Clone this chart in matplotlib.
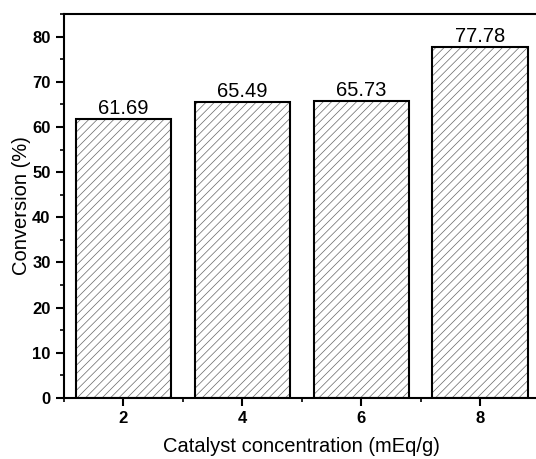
import matplotlib
matplotlib.use("Agg")
import matplotlib.pyplot as plt
from matplotlib.ticker import MultipleLocator

# data
conc = [2, 4, 6, 8]
conv = [61.69, 65.49, 65.73, 77.78]
tick_labels = ["2", "4", "6", "8"]

plt.rcParams['font.family'] = ['Liberation Sans', 'DejaVu Sans']
plt.rcParams['hatch.linewidth'] = 0.5

fig = plt.figure(figsize=(5.36, 4.59), dpi=100)
ax = fig.add_axes([0.119, 0.133, 0.8875, 0.8365])

# hatch in gray, outline in black
ax.bar(conc, conv, width=1.6, color='white', edgecolor='#666666', hatch='////', linewidth=0)
ax.bar(conc, conv, width=1.6, color='none', edgecolor='black', linewidth=1.5)

for x, v in zip(conc, conv):
    ax.text(x, v + 0.2, f"{v:.2f}", ha='center', va='bottom', fontsize=14.5)

ax.set_xlim(1, 9)
ax.set_ylim(0, 85)
ax.set_xticks(conc)
ax.set_xticklabels(tick_labels)
ax.xaxis.set_minor_locator(MultipleLocator(1))
ax.yaxis.set_major_locator(MultipleLocator(10))
ax.yaxis.set_minor_locator(MultipleLocator(5))
ax.tick_params(which='major', direction='out', length=6, width=1.5, labelsize=12)
ax.tick_params(which='minor', direction='out', length=3, width=1.2)
for lbl in ax.get_xticklabels() + ax.get_yticklabels():
    lbl.set_fontweight('bold')
for s in ax.spines.values():
    s.set_linewidth(1.5)

ax.set_xlabel('Catalyst concentration (mEq/g)', fontsize=14.5, labelpad=8)
ax.set_ylabel('Conversion (%)', fontsize=14.5, labelpad=1)

fig.savefig('out.png', dpi=100)
